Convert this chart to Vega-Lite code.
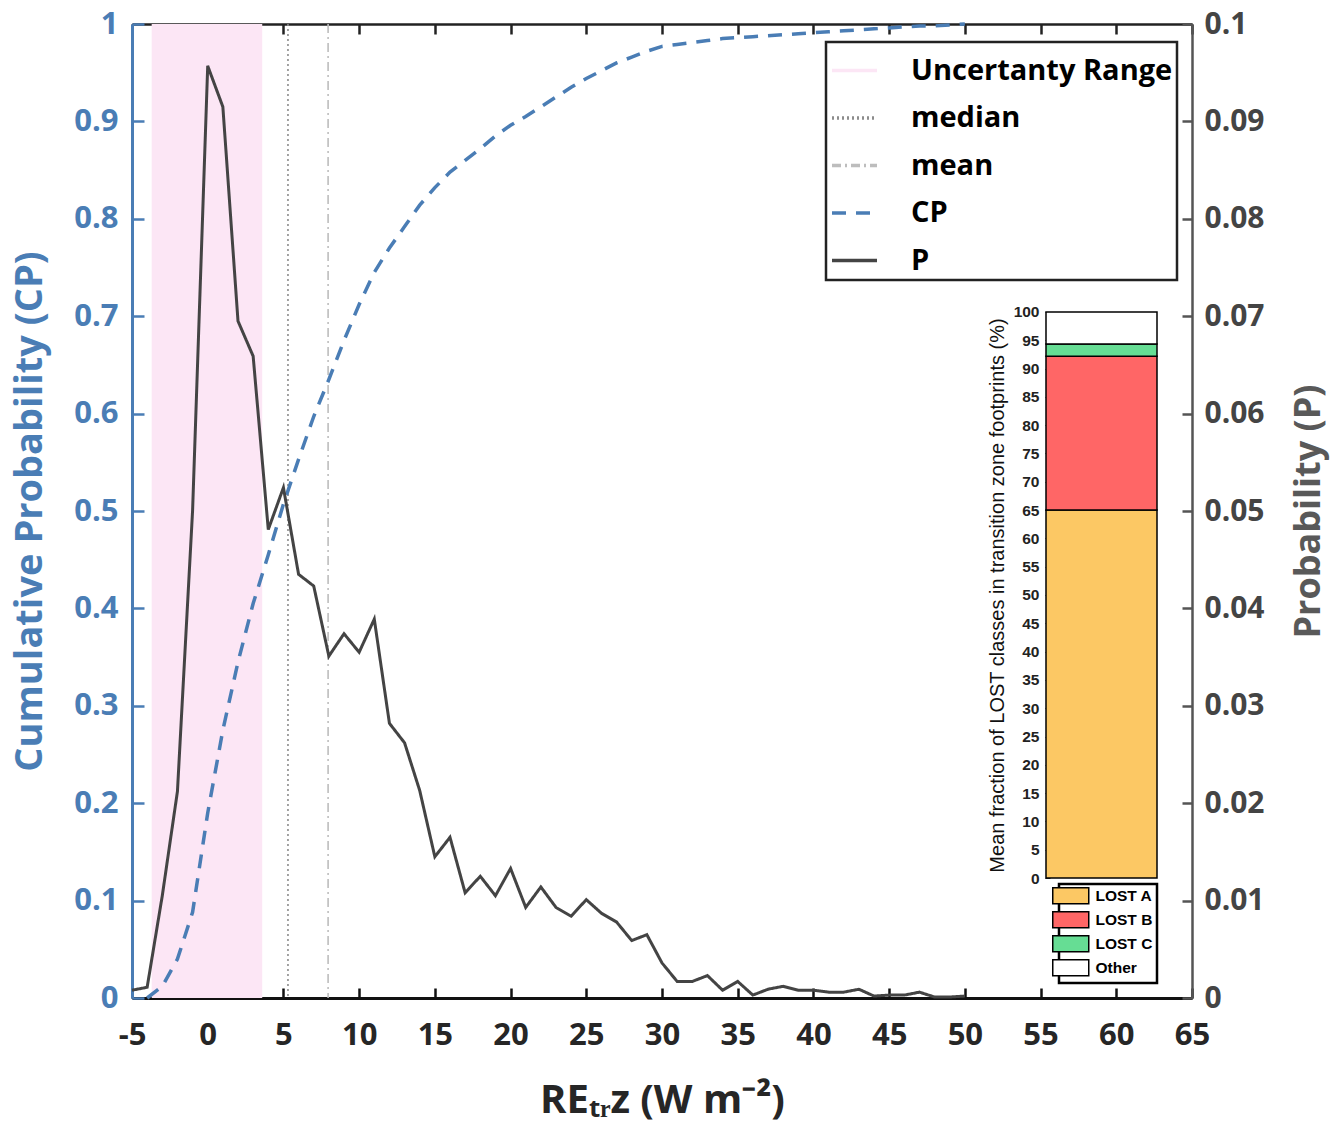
{
  "$schema": "https://vega.github.io/schema/vega-lite/v6.json",
  "width": 1060,
  "height": 974,
  "autosize": {"type": "none"},
  "padding": {"left": 132, "top": 24, "right": 151, "bottom": 141},
  "config": {"view": {"stroke": null}, "axis": {"grid": false}, "legend": {"strokeWidth": 2.5}},
  "datasets": {
    "dist": [
      {"x": -5, "p": 0.0008, "cp": null},
      {"x": -4, "p": 0.0011, "cp": 0.0},
      {"x": -3, "p": 0.0105, "cp": 0.012},
      {"x": -2, "p": 0.0212, "cp": 0.040},
      {"x": -1, "p": 0.050, "cp": 0.088},
      {"x": 0, "p": 0.0957, "cp": 0.19},
      {"x": 1, "p": 0.0915, "cp": 0.275},
      {"x": 2, "p": 0.0695, "cp": 0.345},
      {"x": 3, "p": 0.0659, "cp": 0.405},
      {"x": 4, "p": 0.0481, "cp": 0.455},
      {"x": 5, "p": 0.0524, "cp": 0.507},
      {"x": 6, "p": 0.0435, "cp": 0.553},
      {"x": 7, "p": 0.0423, "cp": 0.597},
      {"x": 8, "p": 0.0351, "cp": 0.635},
      {"x": 9, "p": 0.0374, "cp": 0.675},
      {"x": 10, "p": 0.0355, "cp": 0.712},
      {"x": 11, "p": 0.0389, "cp": 0.745},
      {"x": 12, "p": 0.0282, "cp": 0.77},
      {"x": 13, "p": 0.0262, "cp": 0.792},
      {"x": 14, "p": 0.0213, "cp": 0.814},
      {"x": 15, "p": 0.0145, "cp": 0.832},
      {"x": 16, "p": 0.0165, "cp": 0.848},
      {"x": 17, "p": 0.0108, "cp": 0.86},
      {"x": 18, "p": 0.0125, "cp": 0.872},
      {"x": 19, "p": 0.0105, "cp": 0.885},
      {"x": 20, "p": 0.0133, "cp": 0.896},
      {"x": 21, "p": 0.0093, "cp": 0.905},
      {"x": 22, "p": 0.0114, "cp": 0.915},
      {"x": 23, "p": 0.0093, "cp": 0.925},
      {"x": 24, "p": 0.0084, "cp": 0.935},
      {"x": 25, "p": 0.0101, "cp": 0.944},
      {"x": 26, "p": 0.0087, "cp": 0.952},
      {"x": 27, "p": 0.0078, "cp": 0.96},
      {"x": 28, "p": 0.0059, "cp": 0.966},
      {"x": 29, "p": 0.0065, "cp": 0.972},
      {"x": 30, "p": 0.0036, "cp": 0.977},
      {"x": 31, "p": 0.0017, "cp": 0.979},
      {"x": 32, "p": 0.0017, "cp": 0.981},
      {"x": 33, "p": 0.0023, "cp": 0.983},
      {"x": 34, "p": 0.0008, "cp": 0.985},
      {"x": 35, "p": 0.0017, "cp": 0.986},
      {"x": 36, "p": 0.0003, "cp": 0.987},
      {"x": 37, "p": 0.0009, "cp": 0.988},
      {"x": 38, "p": 0.0012, "cp": 0.989},
      {"x": 39, "p": 0.0008, "cp": 0.990},
      {"x": 40, "p": 0.0008, "cp": 0.991},
      {"x": 41, "p": 0.0006, "cp": 0.992},
      {"x": 42, "p": 0.0006, "cp": 0.993},
      {"x": 43, "p": 0.0009, "cp": 0.994},
      {"x": 44, "p": 0.0002, "cp": 0.995},
      {"x": 45, "p": 0.0003, "cp": 0.996},
      {"x": 46, "p": 0.0003, "cp": 0.997},
      {"x": 47, "p": 0.0006, "cp": 0.998},
      {"x": 48, "p": 0.0001, "cp": 0.998},
      {"x": 49, "p": 0.0001, "cp": 0.999},
      {"x": 50, "p": 0.0002, "cp": 1.0}
    ],
    "unc": [{"series": "Uncertanty Range", "lo": -3.7, "hi": 3.6}],
    "stats": [{"series": "median", "value": 5.3}, {"series": "mean", "value": 7.95}],
    "lost": [
      {"class": "LOST A", "pct": 65.0},
      {"class": "LOST B", "pct": 27.2},
      {"class": "LOST C", "pct": 2.15},
      {"class": "Other", "pct": 5.65}
    ]
  },
  "layer": [
    {
      "data": {"name": "unc"},
      "mark": {"type": "rect"},
      "encoding": {
        "x": {
          "field": "lo", "type": "quantitative",
          "scale": {"domain": [-5, 65], "nice": false, "zero": false},
          "axis": {
            "orient": "bottom",
            "values": [-5, 0, 5, 10, 15, 20, 25, 30, 35, 40, 45, 50, 55, 60, 65],
            "labelExpr": "replace(datum.label, '−', '-')",
            "labelFont": "Open Sans", "labelFontWeight": "bold", "labelFontSize": 31, "labelColor": "#262626",
            "domainColor": "#111", "domainWidth": 3, "tickColor": "#111", "tickWidth": 2.5, "tickSize": -10,
            "labelPadding": 32, "labelFlush": false,
            "title": "REₜᵣz (W m⁻²)", "titleFont": "Open Sans", "titleFontWeight": "bold", "titleFontSize": 40,
            "titleColor": "#262626", "titlePadding": 30
          }
        },
        "x2": {"field": "hi"},
        "color": {
          "field": "series", "type": "nominal",
          "scale": {
            "domain": ["Uncertanty Range", "median", "mean", "CP", "P"],
            "range": ["#FCE6F5", "#8C8C8C", "#BDBDBD", "#4A7DB5", "#444444"]
          },
          "legend": {
            "orient": "none", "legendX": 694, "legendY": 18, "title": null,
            "symbolType": "stroke", "symbolSize": 2025, "symbolStrokeWidth": 3.5,
            "labelFont": "Open Sans", "labelFontWeight": "bold", "labelFontSize": 29, "labelColor": "black",
            "labelLimit": 0, "labelOffset": 32, "rowPadding": 7.5, "padding": 4,
            "strokeColor": "#222", "fillColor": "white"
          }
        }
      }
    },
    {
      "data": {"name": "stats"},
      "transform": [{"filter": "datum.series === 'median'"}],
      "mark": {"type": "rule", "strokeWidth": 1.6},
      "encoding": {
        "x": {"field": "value", "type": "quantitative", "scale": {"domain": [-5, 65], "nice": false, "zero": false}, "axis": null},
        "color": {"field": "series", "type": "nominal"},
        "strokeDash": {
          "field": "series", "type": "nominal",
          "scale": {
            "domain": ["Uncertanty Range", "median", "mean", "CP", "P"],
            "range": [[1, 0], [2, 3], [9, 4, 2, 4], [14, 10], [1, 0]]
          },
          "legend": {
            "orient": "none", "legendX": 694, "legendY": 18, "title": null,
            "symbolType": "stroke", "symbolSize": 2025, "symbolStrokeWidth": 3.5,
            "labelFont": "Open Sans", "labelFontWeight": "bold", "labelFontSize": 29, "labelColor": "black",
            "labelLimit": 0, "labelOffset": 32, "rowPadding": 7.5, "padding": 4,
            "strokeColor": "#222", "fillColor": "white"
          }
        }
      }
    },
    {
      "data": {"name": "stats"},
      "transform": [{"filter": "datum.series === 'mean'"}],
      "mark": {"type": "rule", "strokeWidth": 1.6},
      "encoding": {
        "x": {"field": "value", "type": "quantitative", "scale": {"domain": [-5, 65], "nice": false, "zero": false}, "axis": null},
        "color": {"field": "series", "type": "nominal"},
        "strokeDash": {"field": "series", "type": "nominal"}
      }
    },
    {
      "data": {"name": "dist"},
      "mark": {"type": "line", "strokeWidth": 3.5},
      "encoding": {
        "x": {"field": "x", "type": "quantitative", "scale": {"domain": [-5, 65], "nice": false, "zero": false}, "axis": null},
        "y": {
          "field": "cp", "type": "quantitative",
          "scale": {"domain": [0, 1], "nice": false},
          "axis": {
            "orient": "left",
            "values": [0, 0.1, 0.2, 0.3, 0.4, 0.5, 0.6, 0.7, 0.8, 0.9, 1],
            "format": ".1~f",
            "labelFont": "Open Sans", "labelFontWeight": "bold", "labelFontSize": 31, "labelColor": "#4A7DB5",
            "domainColor": "#4A7DB5", "domainWidth": 3, "tickColor": "#4A7DB5", "tickWidth": 2.5, "tickSize": -12,
            "labelPadding": 26, "labelFlush": false,
            "title": "Cumulative Probability (CP)", "titleFont": "Open Sans", "titleFontWeight": "bold",
            "titleFontSize": 38, "titleColor": "#4A7DB5", "titlePadding": 24
          }
        },
        "color": {"datum": "CP", "type": "nominal"},
        "strokeDash": {"datum": "CP", "type": "nominal"}
      }
    },
    {
      "data": {"name": "dist"},
      "mark": {"type": "line", "strokeWidth": 3},
      "encoding": {
        "x": {
          "field": "x", "type": "quantitative",
          "scale": {"domain": [-5, 65], "nice": false, "zero": false},
          "axis": {
            "orient": "top", "labels": false, "title": null,
            "values": [-5, 0, 5, 10, 15, 20, 25, 30, 35, 40, 45, 50, 55, 60, 65],
            "domainColor": "#222", "domainWidth": 2.5, "tickColor": "#222", "tickWidth": 2.5, "tickSize": -10
          }
        },
        "y": {
          "field": "p", "type": "quantitative",
          "scale": {"domain": [0, 0.1], "nice": false},
          "axis": {
            "orient": "right",
            "values": [0, 0.01, 0.02, 0.03, 0.04, 0.05, 0.06, 0.07, 0.08, 0.09, 0.1],
            "format": ".2~f",
            "labelFont": "Open Sans", "labelFontWeight": "bold", "labelFontSize": 30, "labelColor": "#444444",
            "domainColor": "#555", "domainWidth": 2.5, "tickColor": "#555", "tickWidth": 2.5, "tickSize": -10,
            "labelPadding": 22, "labelFlush": false,
            "title": "Probability (P)", "titleFont": "Open Sans", "titleFontWeight": "bold", "titleFontSize": 36,
            "titleColor": "#595959", "titleAngle": 270, "titleBaseline": "top", "titlePadding": 27
          }
        },
        "color": {"datum": "P", "type": "nominal"},
        "strokeDash": {"datum": "P", "type": "nominal"}
      }
    },
    {
      "data": {"name": "lost"},
      "transform": [
        {"stack": "pct", "groupby": [], "sort": [{"field": "class", "order": "ascending"}], "as": ["y0", "y1"]}
      ],
      "mark": {"type": "rect", "stroke": "black", "strokeWidth": 1.5},
      "encoding": {
        "x": {"datum": 0, "type": "quantitative", "scale": {"domain": [-8.234, 1.3153], "nice": false, "zero": false}, "axis": null},
        "x2": {"datum": 1},
        "y": {
          "field": "y0", "type": "quantitative",
          "scale": {"domain": [-21.2, 150.88], "nice": false, "zero": false},
          "axis": {
            "orient": "left", "offset": -913,
            "values": [0, 5, 10, 15, 20, 25, 30, 35, 40, 45, 50, 55, 60, 65, 70, 75, 80, 85, 90, 95, 100],
            "labelFont": "Liberation Sans", "labelFontWeight": "bold", "labelFontSize": 15.5, "labelColor": "#222",
            "domain": false, "tickColor": "#333", "tickWidth": 1, "tickSize": -5, "labelPadding": 11, "labelFlush": false,
            "title": "Mean fraction of LOST classes in transition zone footprints (%)",
            "titleFont": "Liberation Sans", "titleFontWeight": "normal", "titleFontSize": 20, "titleColor": "#111",
            "titlePadding": 6, "titleY": 571
          }
        },
        "y2": {"field": "y1"},
        "fill": {
          "field": "class", "type": "nominal",
          "scale": {"domain": ["LOST A", "LOST B", "LOST C", "Other"], "range": ["#FCC864", "#FF6666", "#66DD94", "#FFFFFF"]},
          "legend": {
            "orient": "none", "legendX": 927, "legendY": 860, "title": null,
            "symbolType": "M-3.6,-1.6H3.6V1.6H-3.6Z", "symbolSize": 100,
            "symbolStrokeColor": "black", "symbolStrokeWidth": 1.5, "symbolOpacity": 1,
            "labelFont": "Liberation Sans", "labelFontWeight": "bold", "labelFontSize": 15.5, "labelColor": "black",
            "labelOffset": 17, "rowPadding": 1, "padding": 4,
            "strokeColor": "black", "fillColor": "white"
          }
        }
      }
    }
  ],
  "resolve": {"scale": {"x": "independent", "y": "independent"}}
}
